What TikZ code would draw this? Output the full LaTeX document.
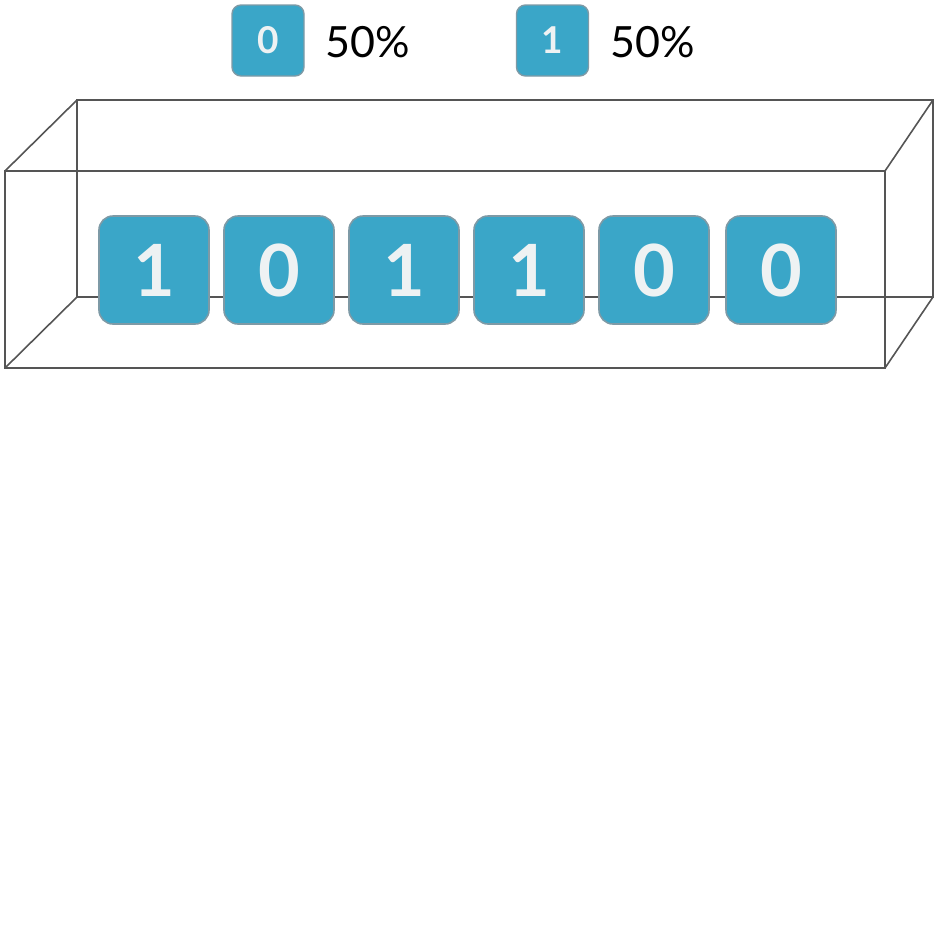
\documentclass[tikz,border=0pt]{standalone}
\usepackage{fontspec}
\setmainfont{Lato}
\definecolor{tilefill}{HTML}{3AA6C8}
\definecolor{tileedge}{HTML}{7E9AA6}
\definecolor{digit}{HTML}{EEF2F3}
\definecolor{boxline}{HTML}{555555}
\begin{document}
\begin{tikzpicture}[x=1pt,y=-1pt,
  tile/.style={draw=tileedge,line width=1.6pt,fill=tilefill,rounded corners=14pt,
    minimum width=110pt,minimum height=108pt,inner sep=0pt,text=digit,
    font=\fontsize{72}{72}\selectfont\bfseries},
  legtile/.style={draw=tileedge,line width=1.4pt,fill=tilefill,rounded corners=9pt,
    minimum width=72pt,minimum height=71pt,inner sep=0pt,text=digit,
    font=\fontsize{37}{37}\selectfont\bfseries},
  legtext/.style={anchor=west,inner sep=0pt,text=black,font=\fontsize{43}{43}\selectfont},
  edge/.style={draw=boxline,line width=1.6pt}]
\useasboundingbox (0,0) rectangle (940,940);
% box corners
\coordinate (bTL) at (77,100);
\coordinate (bTR) at (933,100);
\coordinate (bBL) at (77,297);
\coordinate (bBR) at (933,297);
\coordinate (fTL) at (5,171);
\coordinate (fTR) at (885,171);
\coordinate (fBL) at (5,368);
\coordinate (fBR) at (885,368);
\draw[edge] (bTL) -- (bTR) -- (bBR) -- (bBL) -- cycle;
\draw[edge] (fTL) -- (fTR) -- (fBR) -- (fBL) -- cycle;
\draw[edge] (fTL) -- (bTL) (fTR) -- (bTR) (fBL) -- (bBL) (fBR) -- (bBR);
% tiles
\node[tile] (t1) at (154,270) {1};
\node[tile] (t2) at (279,270) {0};
\node[tile] (t3) at (404,270) {1};
\node[tile] (t4) at (529,270) {1};
\node[tile] (t5) at (654,270) {0};
\node[tile] (t6) at (781,270) {0};
% legend
\node[legtile] (l0) at (268,40.5) {0};
\node[legtext] (p0) at (325,42) {50\%};
\node[legtile] (l1) at (552.5,40.5) {1};
\node[legtext] (p1) at (610,42) {50\%};
\end{tikzpicture}
\end{document}
